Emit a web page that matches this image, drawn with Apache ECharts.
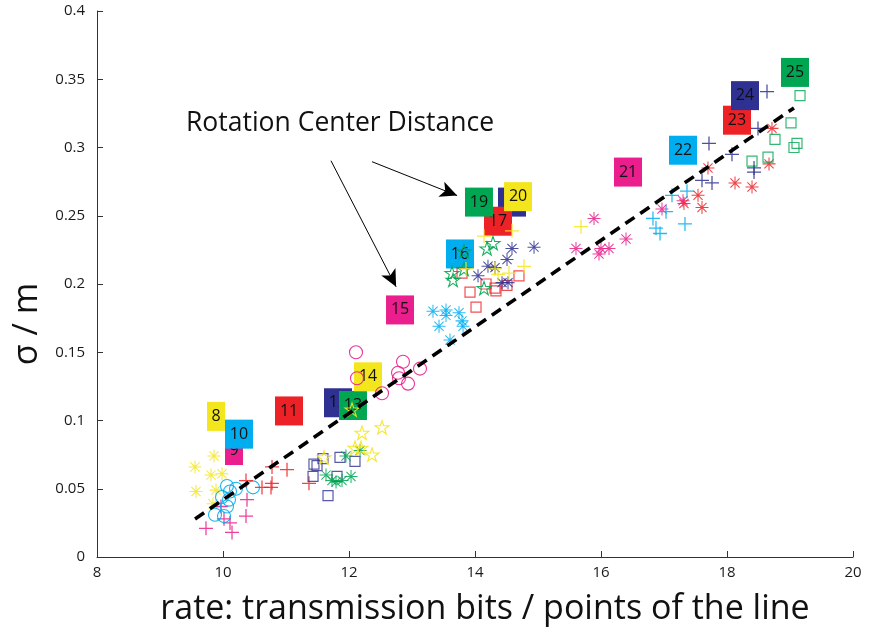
<!DOCTYPE html>
<html>
<head>
<meta charset="utf-8">
<script src="https://cdn.jsdelivr.net/npm/echarts@6/dist/echarts.min.js"></script>
<style>
  html, body { margin: 0; padding: 0; background: #fff; }
  #chart { width: 870px; height: 634px; }
</style>
</head>
<body>
<div id="chart"></div>
<script>
// Measured uncertainty (sigma, m) against rate for each test configuration 8..25
const rate08 = [9.857, 9.556, 9.810, 9.984, 9.571, 9.889, 9.841];
const sigma08 = [0.074, 0.066, 0.060, 0.061, 0.048, 0.049, 0.039];
const rate09 = [9.730, 10.016, 10.111, 10.143, 10.365, 10.381, 9.968];
const sigma09 = [0.021, 0.028, 0.025, 0.018, 0.030, 0.042, 0.037];
const rate10 = [10.063, 10.206, 10.476, 9.984, 10.095, 10.111, 10.063, 9.873, 10.016];
const sigma10 = [0.052, 0.050, 0.051, 0.044, 0.042, 0.048, 0.037, 0.031, 0.030];
const rate11 = [10.365, 10.619, 10.778, 10.778, 10.762, 11.016, 11.365];
const sigma11 = [0.056, 0.051, 0.066, 0.054, 0.051, 0.064, 0.054];
const rate12 = [11.444, 11.492, 11.429, 11.587, 11.857, 12.095, 11.810, 11.667];
const sigma12 = [0.068, 0.067, 0.059, 0.072, 0.073, 0.070, 0.059, 0.045];
const rate13 = [11.952, 11.635, 11.730, 11.794, 11.889, 12.032, 12.175];
const sigma13 = [0.074, 0.060, 0.056, 0.055, 0.056, 0.059, 0.078];
const rate14 = [12.048, 12.206, 12.524, 12.095, 12.190, 12.365, 11.603];
const sigma14 = [0.108, 0.091, 0.095, 0.080, 0.080, 0.075, 0.073];
const rate15 = [12.111, 12.127, 12.857, 13.127, 12.778, 12.794, 12.937, 12.524];
const sigma15 = [0.150, 0.131, 0.143, 0.138, 0.135, 0.131, 0.127, 0.120];
const rate16 = [13.333, 13.540, 13.540, 13.746, 13.429, 13.794, 13.810, 13.603];
const sigma16 = [0.180, 0.181, 0.177, 0.179, 0.169, 0.173, 0.169, 0.159];
const rate17 = [13.921, 14.016, 13.794, 14.175, 14.317, 14.333, 14.508, 14.698];
const sigma17 = [0.194, 0.183, 0.208, 0.200, 0.197, 0.195, 0.199, 0.206];
const rate18 = [14.587, 14.937, 14.508, 14.206, 14.317, 14.048, 14.429, 14.524];
const sigma18 = [0.226, 0.227, 0.218, 0.213, 0.212, 0.206, 0.201, 0.201];
const rate19 = [14.286, 14.190, 13.825, 13.635, 13.651, 13.825, 14.143];
const sigma19 = [0.230, 0.226, 0.224, 0.208, 0.203, 0.211, 0.197];
const rate20 = [14.143, 14.587, 13.857, 14.317, 14.365, 14.540, 14.778, 15.683];
const sigma20 = [0.235, 0.239, 0.211, 0.211, 0.207, 0.208, 0.213, 0.242];
const rate21 = [15.603, 15.889, 15.968, 16.000, 16.127, 16.397, 16.968, 17.302];
const sigma21 = [0.226, 0.248, 0.222, 0.226, 0.226, 0.233, 0.255, 0.261];
const rate22 = [17.127, 17.365, 17.032, 16.825, 16.873, 16.937, 17.333];
const sigma22 = [0.265, 0.268, 0.253, 0.248, 0.241, 0.237, 0.244];
const rate23 = [17.698, 17.540, 17.603, 17.317, 18.127, 18.397, 18.667, 18.714];
const sigma23 = [0.285, 0.265, 0.256, 0.259, 0.274, 0.271, 0.288, 0.314];
const rate24 = [18.635, 18.492, 18.079, 17.714, 17.603, 17.762, 18.429, 18.429];
const sigma24 = [0.341, 0.314, 0.295, 0.303, 0.276, 0.274, 0.285, 0.282];
const rate25 = [19.159, 19.016, 18.762, 19.111, 19.063, 18.397, 18.651];
const sigma25 = [0.338, 0.318, 0.306, 0.303, 0.300, 0.290, 0.293];

// Numbered configuration tags (drawing order: later ones sit on top)
const tagIds = [8, 9, 10, 11, 12, 13, 14, 15, 16, 18, 17, 19, 20, 21, 22, 23, 24, 25];
const tagRate = [9.889, 10.175, 10.254, 11.048, 11.825, 12.063, 12.302, 12.810, 13.762,
                 14.587, 14.365, 14.063, 14.683, 16.429, 17.302, 18.159, 18.286, 19.079];
const tagSigma = [0.103, 0.078, 0.090, 0.107, 0.113, 0.111, 0.132, 0.181, 0.222,
                  0.260, 0.246, 0.260, 0.264, 0.282, 0.298, 0.320, 0.338, 0.355];

// Linear trend of sigma against rate
const fitSlope = 0.03168;
const fitIntercept = -0.2749;
const fitRange = [9.556, 19.063];

// Axis ticks
const rateTicks = [8, 10, 12, 14, 16, 18, 20];
const sigmaTicks = ['0', '0.05', '0.1', '0.15', '0.2', '0.25', '0.3', '0.35', '0.4'];

// Annotation
const noteText = 'Rotation Center Distance';
const noteAnchor = [9.413, 0.3177];
const arrowFrom = [[11.714, 0.2903], [12.365, 0.2896]];
const arrowTo = [[12.748, 0.1979], [13.716, 0.2648]];

// ---------- styling ----------
const FONT = '"Open Sans", "Liberation Sans", sans-serif';
const palette = ['#f4e61c', '#ea1e8c', '#00aeef', '#ec2227', '#2e3192', '#00a651'];
const colorOf = id => palette[(id + 4) % 6];

const groups = [
  { id: 8, rate: rate08, sigma: sigma08, marker: 'asterisk' },
  { id: 9, rate: rate09, sigma: sigma09, marker: 'plus' },
  { id: 10, rate: rate10, sigma: sigma10, marker: 'circle' },
  { id: 11, rate: rate11, sigma: sigma11, marker: 'plus' },
  { id: 12, rate: rate12, sigma: sigma12, marker: 'square' },
  { id: 13, rate: rate13, sigma: sigma13, marker: 'asterisk' },
  { id: 14, rate: rate14, sigma: sigma14, marker: 'star' },
  { id: 15, rate: rate15, sigma: sigma15, marker: 'circle' },
  { id: 16, rate: rate16, sigma: sigma16, marker: 'asterisk' },
  { id: 17, rate: rate17, sigma: sigma17, marker: 'square' },
  { id: 18, rate: rate18, sigma: sigma18, marker: 'asterisk' },
  { id: 19, rate: rate19, sigma: sigma19, marker: 'star' },
  { id: 20, rate: rate20, sigma: sigma20, marker: 'plus' },
  { id: 21, rate: rate21, sigma: sigma21, marker: 'asterisk' },
  { id: 22, rate: rate22, sigma: sigma22, marker: 'plus' },
  { id: 23, rate: rate23, sigma: sigma23, marker: 'asterisk' },
  { id: 24, rate: rate24, sigma: sigma24, marker: 'plus' },
  { id: 25, rate: rate25, sigma: sigma25, marker: 'square' }
];

// Filled-bar glyphs for '+' and '*' markers
const PLUS_PATH = 'path://M-1,-0.09L1,-0.09L1,0.09L-1,0.09Z' +
                  'M-0.09,-1L0.09,-1L0.09,1L-0.09,1Z';
const ASTERISK_PATH = 'path://M-1,-0.08L1,-0.08L1,0.08L-1,0.08Z' +
                      'M-0.08,-1L0.08,-1L0.08,1L-0.08,1Z' +
                      'M-0.764,-0.651L-0.651,-0.764L0.764,0.651L0.651,0.764Z' +
                      'M-0.651,0.764L-0.764,0.651L0.651,-0.764L0.764,-0.651Z' +
                      'M-0.2,-0.2L0.2,-0.2L0.2,0.2L-0.2,0.2Z';
const STAR_PATH = 'path://M0,-1L0.2245,-0.309L0.951,-0.309L0.363,0.118L0.588,0.809' +
                  'L0,0.382L-0.588,0.809L-0.363,0.118L-0.951,-0.309L-0.2245,-0.309Z';

function markerStyle(marker, color) {
  switch (marker) {
    case 'plus':
      return { symbol: PLUS_PATH, symbolSize: 14, itemStyle: { color, opacity: 0.85 } };
    case 'asterisk':
      return { symbol: ASTERISK_PATH, symbolSize: 13, itemStyle: { color, opacity: 0.85 } };
    case 'circle':
      return { symbol: 'circle', symbolSize: 13,
               itemStyle: { color: 'rgba(0,0,0,0)', borderColor: color, borderWidth: 1.1, opacity: 0.9 } };
    case 'square':
      return { symbol: 'rect', symbolSize: 10,
               itemStyle: { color: 'rgba(0,0,0,0)', borderColor: color, borderWidth: 1.2, opacity: 0.8 } };
    case 'star':
      return { symbol: STAR_PATH, symbolSize: 14, symbolKeepAspect: true,
               itemStyle: { color: 'rgba(0,0,0,0)', borderColor: color, borderWidth: 1.1, opacity: 0.9 } };
  }
}

const series = [];

// tag boxes, each in its own layer so later tags cover earlier tags and their text
tagIds.forEach((id, i) => {
  series.push({
    type: 'scatter',
    name: 'tag ' + id,
    z: 1 + i,
    silent: true,
    animation: false,
    symbol: 'rect',
    symbolSize: [String(id).length > 1 ? 28 : 18, 29],
    itemStyle: { color: colorOf(id), opacity: 1 },
    label: {
      show: true, position: 'inside', formatter: String(id),
      fontFamily: FONT, fontSize: 16, color: '#111'
    },
    data: [[tagRate[i], tagSigma[i]]]
  });
});

// measurement markers
groups.forEach(g => {
  const st = markerStyle(g.marker, colorOf(g.id));
  series.push(Object.assign({
    type: 'scatter',
    name: String(g.id),
    z: 30,
    silent: true,
    animation: false,
    data: g.rate.map((r, k) => [r, g.sigma[k]])
  }, st));
});

// trend line and annotation arrows
series.push({
  type: 'line',
  name: 'trend',
  z: 40,
  silent: true,
  animation: false,
  symbol: 'none',
  lineStyle: { color: '#000', width: 3.6, type: [11, 7] },
  data: fitRange.map(x => [x, fitSlope * x + fitIntercept]),
  markLine: {
    silent: true,
    animation: false,
    symbol: ['none', 'arrow'],
    symbolSize: [12, 17],
    label: { show: false },
    emphasis: { disabled: true },
    lineStyle: { color: '#000', width: 1, type: 'solid' },
    itemStyle: { color: '#000' },
    data: arrowFrom.map((p, i) => [{ coord: p }, { coord: arrowTo[i] }])
  }
});

const chart = echarts.init(document.getElementById('chart'), null, { renderer: 'canvas' });

chart.setOption({
  backgroundColor: '#fff',
  animation: false,
  grid: { left: 97, right: 17, top: 11, bottom: 77, containLabel: false, outerBoundsMode: 'none' },
  xAxis: {
    type: 'value',
    min: rateTicks[0], max: rateTicks[rateTicks.length - 1], interval: 2,
    name: 'rate: transmission bits / points of the line',
    nameLocation: 'middle',
    nameGap: 35,
    nameTextStyle: { fontFamily: FONT, fontSize: 34, color: '#111', padding: [0, 0, 0, 20] },
    axisLine: { show: true, onZero: false, lineStyle: { color: '#333', width: 1 } },
    axisTick: { show: true, inside: true, length: 6, lineStyle: { color: '#333' } },
    axisLabel: { fontFamily: FONT, fontSize: 15, color: '#1a1a1a', margin: 8 },
    splitLine: { show: false }
  },
  yAxis: {
    type: 'value',
    min: 0, max: 0.4, interval: 0.05,
    name: '\u03c3 / m',
    nameLocation: 'middle',
    nameGap: 50,
    nameTextStyle: { fontFamily: FONT, fontSize: 34, color: '#111', padding: [0, 80, 0, 0] },
    axisLine: { show: true, onZero: false, lineStyle: { color: '#333', width: 1 } },
    axisTick: { show: true, inside: true, length: 6, lineStyle: { color: '#333' } },
    axisLabel: {
      fontFamily: FONT, fontSize: 15, color: '#1a1a1a', margin: 12,
      formatter: v => sigmaTicks[Math.round(v / 0.05)]
    },
    splitLine: { show: false }
  },
  series
});

// annotation text anchored in data space
const notePx = chart.convertToPixel({ gridIndex: 0 }, noteAnchor);
chart.setOption({
  graphic: [{
    type: 'text',
    x: notePx[0], y: notePx[1],
    silent: true,
    style: {
      text: noteText, fontFamily: FONT, fontSize: 26.5, fill: '#111',
      align: 'left', verticalAlign: 'middle'
    }
  }]
});
</script>
</body>
</html>
